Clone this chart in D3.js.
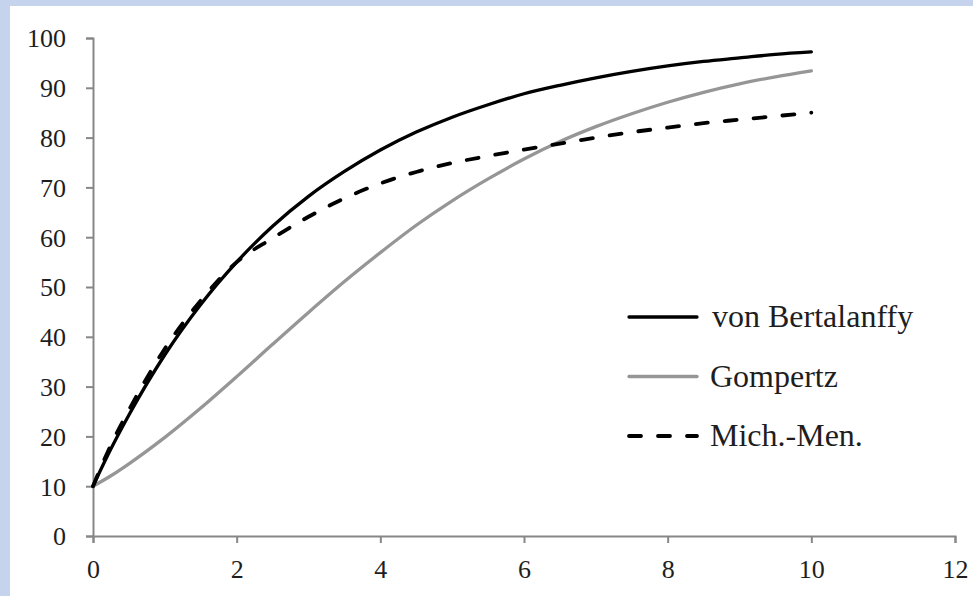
<!doctype html>
<html>
<head>
  <meta charset="utf-8">
  <title>Growth curves</title>
  <script src="https://d3js.org/d3.v7.min.js"></script>
  <style>
    html, body {
      margin: 0;
      padding: 0;
      background: #c5d4ec;
    }
    #chart {
      position: absolute;
      left: 10px;
      top: 6px;
      background: #fff;
    }
    svg text {
      font-family: "Liberation Serif", Tinos, "Times New Roman", serif !important;
    }
    .axis path, .axis line {
      stroke: #878787;
      stroke-width: 2px;
    }
  </style>
</head>
<body>
  <svg id="chart" width="963" height="590" font-family="Liberation Serif"></svg>

  <script>
    // values (age vs. length)
    var ages = [0, 0.25, 0.5, 1, 1.5, 2, 2.5, 3, 3.5, 4, 4.5, 5, 5.5, 6, 6.5, 7, 7.5, 8, 8.5, 9, 9.5, 10];
    var bertalanffy = [10, 17.5, 24.3, 36.4, 46.5, 55, 62.2, 68.2, 73.2, 77.5, 81.1, 84.1, 86.6, 88.8, 90.5, 92.0, 93.3, 94.4, 95.3, 96.0, 96.7, 97.2];
    var gompertz = [10, 12.1, 14.5, 19.8, 25.7, 32.0, 38.5, 44.9, 51.1, 56.9, 62.4, 67.3, 71.7, 75.7, 79.2, 82.2, 84.8, 87.1, 89.1, 90.8, 92.2, 93.4];
    var michMen = [10, 18.3, 25.3, 37.6, 47.3, 55, 59.8, 64.1, 67.8, 70.8, 73.1, 74.9, 76.3, 77.6, 78.8, 80, 81.1, 82, 82.9, 83.6, 84.3, 85];

    var xTicks = [0, 2, 4, 6, 8, 10, 12];
    var yTicks = [0, 10, 20, 30, 40, 50, 60, 70, 80, 90, 100];
    var seriesNames = ["von Bertalanffy", "Gompertz", "Mich.-Men."];

    // svg is offset by the blue frame (10, 6)
    var svg = d3.select("#chart");
    var x = d3.scaleLinear().domain([0, 12]).range([83, 945]);
    var y = d3.scaleLinear().domain([0, 100]).range([530, 32]);

    var xAxis = svg.append("g")
      .attr("class", "axis")
      .attr("transform", "translate(0," + y(0) + ")")
      .call(d3.axisBottom(x).tickValues(xTicks).tickSize(7).tickSizeOuter(7).tickPadding(17));

    var yAxis = svg.append("g")
      .attr("class", "axis")
      .attr("transform", "translate(" + x(0) + ",0)")
      .call(d3.axisLeft(y).tickValues(yTicks).tickSize(7).tickSizeOuter(7).tickPadding(20));

    // d3 puts sans-serif on the axis group; drop it
    svg.selectAll(".axis")
      .attr("font-family", null)
      .attr("font-size", null);
    xAxis.selectAll("text").attr("dy", "0.71em");
    yAxis.selectAll("text").attr("dy", "0.34em");
    svg.selectAll(".axis text")
      .style("font-family", "Liberation Serif")
      .style("font-size", "26px")
      .attr("fill", "#1e1e1e");

    var line = d3.line()
      .x(function(d) { return x(d[0]); })
      .y(function(d) { return y(d[1]); })
      .curve(d3.curveMonotoneX);

    var styles = [
      { color: "#000", dash: null },
      { color: "#969696", dash: null },
      { color: "#000", dash: "12,17" }
    ];

    // grey first so the black lines sit on top
    var order = [1, 0, 2];
    var allSeries = [bertalanffy, gompertz, michMen];
    order.forEach(function(i) {
      svg.append("path")
        .datum(ages.map(function(a, j) { return [a, allSeries[i][j]]; }))
        .attr("d", line)
        .attr("fill", "none")
        .attr("stroke", styles[i].color)
        .attr("stroke-width", i == 2 ? 3.8 : 3.3)
        .attr("stroke-linecap", "round")
        .attr("stroke-dasharray", styles[i].dash);
    });

    var legend = svg.append("g");
    seriesNames.forEach(function(name, i) {
      var ly = 311 + i * 59.5;
      legend.append("line")
        .attr("x1", 619).attr("x2", 687)
        .attr("y1", ly).attr("y2", ly)
        .attr("stroke", styles[i].color)
        .attr("stroke-width", i == 2 ? 3.8 : 3.3)
        .attr("stroke-linecap", "round")
        .attr("stroke-dasharray", styles[i].dash);
      legend.append("text")
        .attr("x", i == 0 ? 702 : 700)
        .attr("y", ly + 10)
        .attr("fill", "#1e1e1e")
        .style("font-family", "Liberation Serif")
        .style("font-size", "32px")
        .text(name);
    });
  </script>
</body>
</html>
